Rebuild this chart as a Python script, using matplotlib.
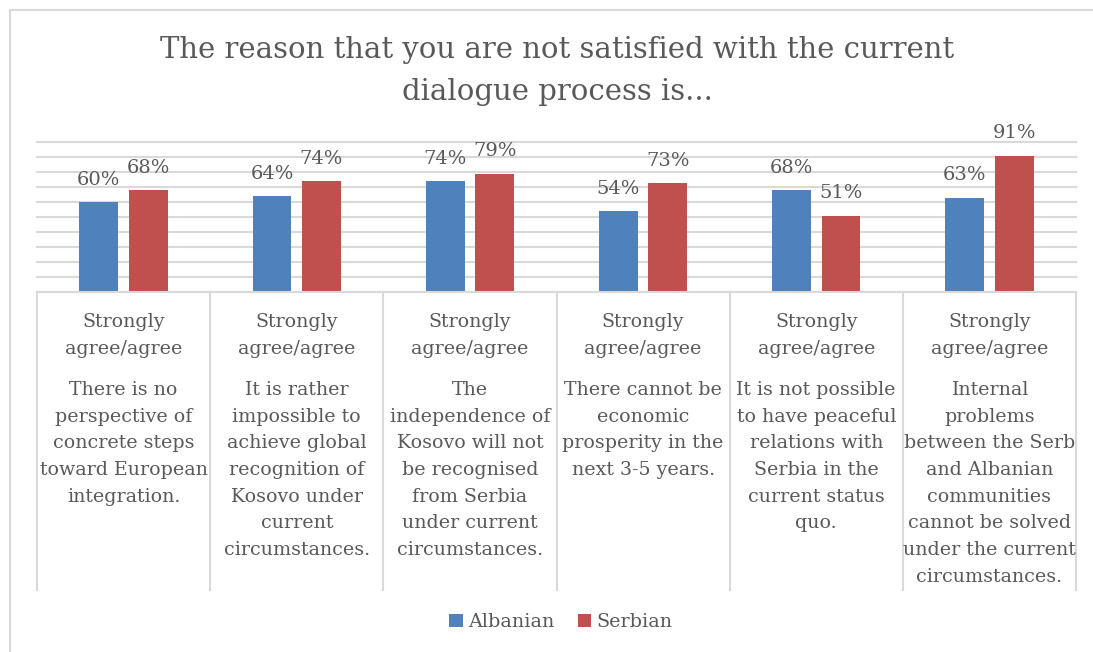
import matplotlib
matplotlib.use("Agg")
import matplotlib.pyplot as plt
import numpy as np

# Survey results: share answering "strongly agree/agree"
groups = ["Albanian", "Serbian"]
albanian = [0.60, 0.64, 0.74, 0.54, 0.68, 0.63]
serbian = [0.68, 0.74, 0.79, 0.73, 0.51, 0.91]
answer_label = "Strongly\nagree/agree"
statements = [
    "There is no\nperspective of\nconcrete steps\ntoward European\nintegration.",
    "It is rather\nimpossible to\nachieve global\nrecognition of\nKosovo under\ncurrent\ncircumstances.",
    "The\nindependence of\nKosovo will not\nbe recognised\nfrom Serbia\nunder current\ncircumstances.",
    "There cannot be\neconomic\nprosperity in the\nnext 3-5 years.",
    "It is not possible\nto have peaceful\nrelations with\nSerbia in the\ncurrent status\nquo.",
    "Internal\nproblems\nbetween the Serb\nand Albanian\ncommunities\ncannot be solved\nunder the current\ncircumstances.",
]
title_lines = ["The reason that you are not satisfied with the current",
               "dialogue process is..."]

BLUE = "#4F81BD"
RED = "#C0504D"
TEXT = "#595959"
GRID = "#D9D9D9"
FONT = "DejaVu Serif"

W, H = 1093, 652
fig = plt.figure(figsize=(W / 100, H / 100), dpi=100)
fig.patch.set_facecolor("white")

# plot area in pixel coordinates
left, right, top, bottom = 37, 1076, 142, 292
ax = fig.add_axes([left / W, (H - bottom) / H, (right - left) / W, (bottom - top) / H])
ph = bottom - top  # pixels per unit of y


def py(p):
    """pixel row -> axes y coordinate"""
    return (bottom - p) / ph


# chart frame (left and top edges)
fig.add_artist(plt.Line2D([9.5 / W, 9.5 / W], [0, (H - 10) / H], color="#D9D9D9", lw=1.5,
                          transform=fig.transFigure))
fig.add_artist(plt.Line2D([9.5 / W, 1.0], [(H - 10) / H, (H - 10) / H], color="#D9D9D9", lw=1.5,
                          transform=fig.transFigure))

x = np.arange(len(albanian))
bw = 0.225
off = 0.143
b1 = ax.bar(x - off, albanian, bw, color=BLUE, zorder=3)
b2 = ax.bar(x + off, serbian, bw, color=RED, zorder=3)

ax.set_xlim(-0.5, len(x) - 0.5)
ax.set_ylim(0, 1)
ax.set_yticks(np.arange(0, 1.01, 0.1))
ax.yaxis.grid(True, color=GRID, lw=1.5, zorder=0)
for gl in ax.get_ygridlines():
    gl.set_clip_on(False)
ax.set_axisbelow(True)
ax.tick_params(left=False, bottom=False, labelleft=False, labelbottom=False)
for s in ["left", "right", "top"]:
    ax.spines[s].set_visible(False)
ax.spines["bottom"].set_color(GRID)
ax.spines["bottom"].set_linewidth(1.5)
ax.spines["bottom"].set_zorder(4)

for bars, vals in ((b1, albanian), (b2, serbian)):
    for rect, v in zip(bars, vals):
        ax.text(rect.get_x() + rect.get_width() / 2, v + 22 / ph, f"{v:.0%}",
                ha="center", va="center", fontsize=14, color=TEXT, family=FONT, clip_on=False)

# category separators of the two-level axis
for k in range(len(x) + 1):
    ax.plot([k - 0.5, k - 0.5], [0, py(590)], color=GRID, lw=1.5, clip_on=False, zorder=1)

line_h = 26.7
for i, stmt in enumerate(statements):
    for j, ln in enumerate(answer_label.split("\n")):
        ax.text(i, py(322 + j * line_h), ln, ha="center", va="center", fontsize=13.7,
                color=TEXT, family=FONT, clip_on=False)
    for j, ln in enumerate(stmt.split("\n")):
        ax.text(i, py(390 + j * line_h), ln, ha="center", va="center", fontsize=13.7,
                color=TEXT, family=FONT, clip_on=False)

# two-line chart title
for j, ln in enumerate(title_lines):
    fig.text(557 / W, 1 - (50 + j * 42) / H, ln, ha="center", va="center", fontsize=21,
             color=TEXT, family=FONT)

leg = fig.legend([b1, b2], groups, loc="center", bbox_to_anchor=(561 / W, 1 - 622 / H),
                 ncol=2, frameon=False, prop={"family": FONT, "size": 13.8},
                 handlelength=0.7, handleheight=0.7, handletextpad=0.3, columnspacing=1.2)
for t in leg.get_texts():
    t.set_color(TEXT)

fig.savefig("out.png", dpi=100)
